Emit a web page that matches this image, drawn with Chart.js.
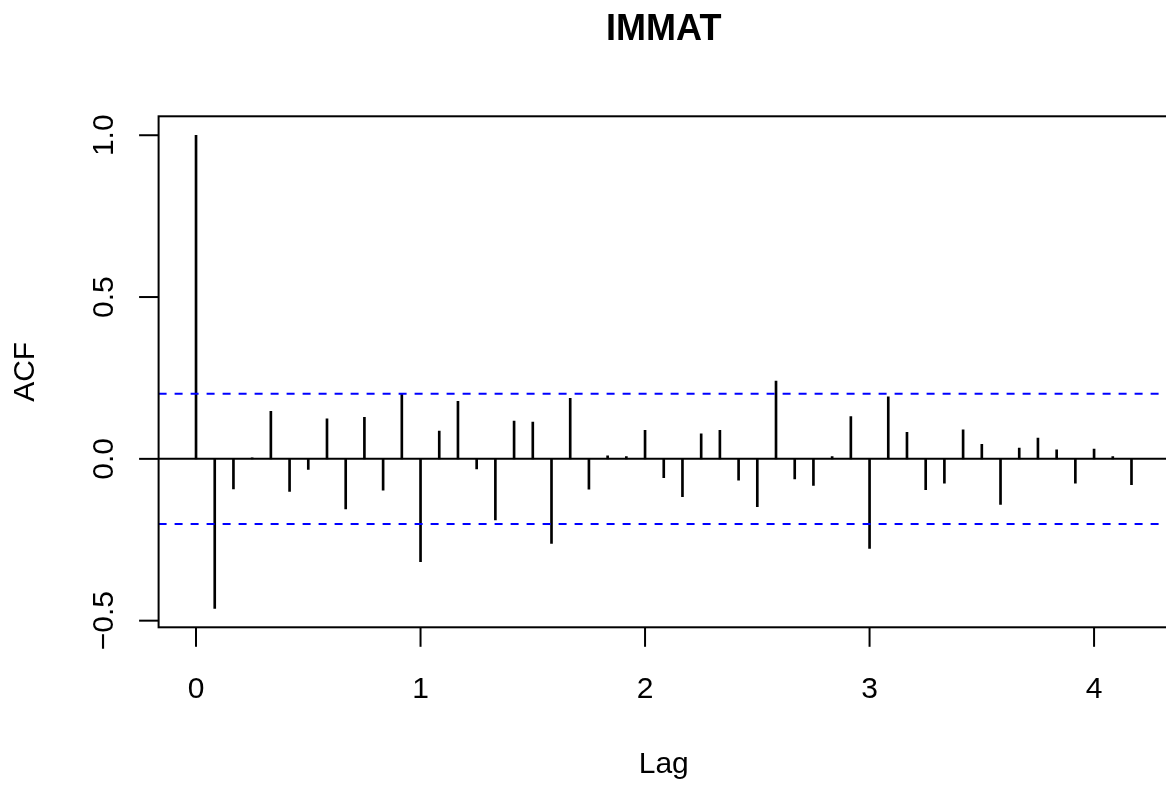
<!DOCTYPE html>
<html>
<head>
<meta charset="utf-8">
<script src="https://cdn.jsdelivr.net/npm/chart.js@4/dist/chart.umd.min.js"></script>
<style>
  html, body { margin: 0; padding: 0; background: #ffffff; overflow: hidden; }
  #wrap { position: absolute; left: 0; top: 0; width: 1180px; height: 785px; }
  canvas { display: block; }
</style>
</head>
<body>
<div id="wrap"><canvas id="c" width="1180" height="785"></canvas></div>
<script>
// ---- data (series frequency 12) ----
const chartTitle = "IMMAT";
const xLabel = "Lag";
const yLabel = "ACF";
const lagMonths = [0,1,2,3,4,5,6,7,8,9,10,11,12,13,14,15,16,17,18,19,20,21,22,23,24,25,
                   26,27,28,29,30,31,32,33,34,35,36,37,38,39,40,41,42,43,44,45,46,47,48,49,50];
const acfValues = [1.000, -0.462, -0.093, 0.003, 0.147, -0.101, -0.033, 0.124, -0.155, 0.128,
                   -0.097, 0.200, -0.318, 0.086, 0.178, -0.031, -0.189, 0.117, 0.114, -0.261,
                   0.187, -0.094, 0.009, 0.007, 0.088, -0.058, -0.117, 0.077, 0.088, -0.066,
                   -0.148, 0.240, -0.062, -0.082, 0.007, 0.131, -0.277, 0.192, 0.082, -0.095,
                   -0.075, 0.090, 0.045, -0.141, 0.033, 0.064, 0.028, -0.075, 0.030, 0.007, -0.080];
const ciLevel = 0.201;
const xTicks = [0, 1, 2, 3, 4];
const xTickLabels = ["0", "1", "2", "3", "4"];
const yTicks = [-0.5, 0.0, 0.5, 1.0];
const yTickLabels = ["\u22120.5", "0.0", "0.5", "1.0"];
const xRange = [-0.1667, 4.3333];
const yRange = [-0.5205, 1.0585];

const FONT = '"Liberation Sans", Arial, Helvetica, sans-serif';

const spikes = lagMonths.map((m, i) => ({ x: m / 12, y: acfValues[i] }));

const rAxesPlugin = {
  id: 'rAxes',
  afterDraw(chart) {
    const ctx = chart.ctx;
    const a = chart.chartArea;
    const xs = chart.scales.x, ys = chart.scales.y;
    ctx.save();
    ctx.strokeStyle = '#000';
    ctx.fillStyle = '#000';
    ctx.lineWidth = 2;
    // box
    ctx.strokeRect(a.left, a.top, a.right - a.left, a.bottom - a.top);
    const tl = 19.5;
    // x ticks + labels
    ctx.font = '30px ' + FONT;
    ctx.textAlign = 'center';
    ctx.textBaseline = 'alphabetic';
    xTicks.forEach((v, i) => {
      const px = xs.getPixelForValue(v);
      ctx.beginPath();
      ctx.moveTo(px, a.bottom);
      ctx.lineTo(px, a.bottom + tl);
      ctx.stroke();
      ctx.fillText(xTickLabels[i], px, 697.5);
    });
    // y ticks + labels (rotated, as in R)
    yTicks.forEach((v, i) => {
      const py = ys.getPixelForValue(v);
      ctx.beginPath();
      ctx.moveTo(a.left, py);
      ctx.lineTo(a.left - tl, py);
      ctx.stroke();
      ctx.save();
      ctx.translate(112.7, py);
      ctx.rotate(-Math.PI / 2);
      ctx.fillText(yTickLabels[i], 0, 0);
      ctx.restore();
    });
    const cx = (a.left + a.right) / 2;
    const cy = (a.top + a.bottom) / 2;
    // axis titles
    ctx.fillText(xLabel, cx, 773);
    ctx.save();
    ctx.translate(34, cy);
    ctx.rotate(-Math.PI / 2);
    ctx.fillText(yLabel, 0, 0);
    ctx.restore();
    // main title
    ctx.font = 'bold 36px ' + FONT;
    ctx.fillText(chartTitle, cx, 40);
    ctx.restore();
  }
};

new Chart(document.getElementById('c'), {
  type: 'bar',
  data: {
    datasets: [
      {
        type: 'bar',
        data: spikes,
        backgroundColor: '#000000',
        borderWidth: 0,
        barThickness: 2,
        grouped: false,
        order: 4
      },
      {
        type: 'line',
        data: [{ x: xRange[0], y: 0 }, { x: xRange[1], y: 0 }],
        borderColor: '#000000',
        borderWidth: 2,
        pointRadius: 0,
        fill: false,
        order: 3
      },
      {
        type: 'line',
        data: [{ x: xRange[0], y: ciLevel }, { x: xRange[1], y: ciLevel }],
        borderColor: '#0000FF',
        borderWidth: 2,
        borderDash: [8, 8],
        pointRadius: 0,
        fill: false,
        order: 2
      },
      {
        type: 'line',
        data: [{ x: xRange[0], y: -ciLevel }, { x: xRange[1], y: -ciLevel }],
        borderColor: '#0000FF',
        borderWidth: 2,
        borderDash: [8, 8],
        pointRadius: 0,
        fill: false,
        order: 1
      }
    ]
  },
  options: {
    responsive: false,
    animation: false,
    devicePixelRatio: 1,
    layout: { padding: { left: 158.6, right: 11.1, top: 116.3, bottom: 157.7 } },
    plugins: { legend: { display: false }, tooltip: { enabled: false }, title: { display: false } },
    scales: {
      x: { type: 'linear', display: false, min: xRange[0], max: xRange[1], offset: false },
      y: { type: 'linear', display: false, min: yRange[0], max: yRange[1] }
    }
  },
  plugins: [rAxesPlugin]
});
</script>
</body>
</html>
